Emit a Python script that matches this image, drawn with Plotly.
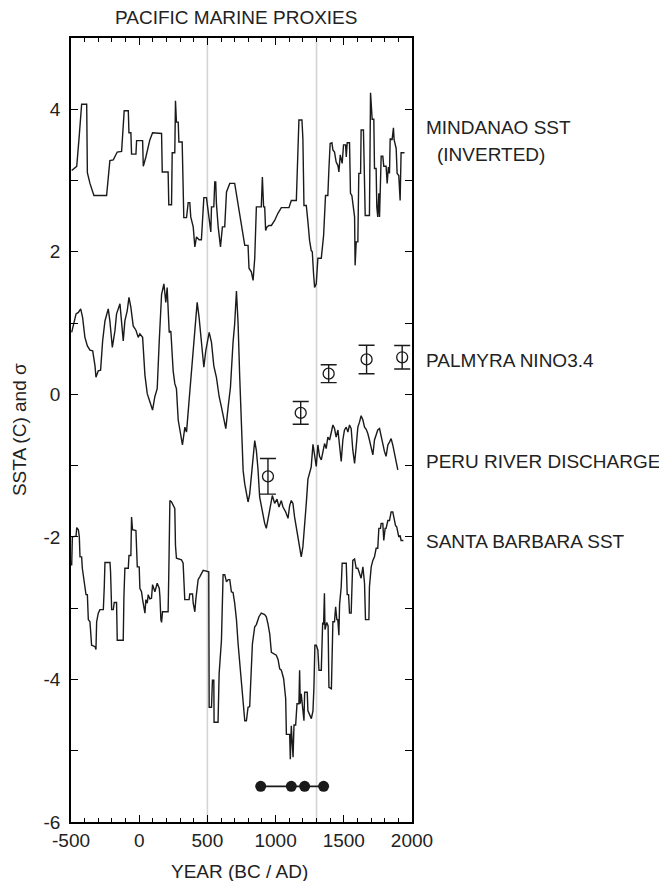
import plotly.graph_objects as go

# ---------------- data ----------------
MINDANAO = [(-495,3.14),(-478,3.17),(-458,3.20),(-439,3.64),(-422,4.07),(-385,4.07),(-380,3.11),(-361,2.96),
    (-332,2.79),(-239,2.79),(-215,3.28),(-190,3.29),(-178,3.34),(-161,3.40),(-129,3.41),(-110,3.98),(-80,3.98),
    (-75,3.67),(-61,3.67),(-56,3.37),(-24,3.37),(-19,3.56),(25,3.56),(30,3.20),(49,3.33),(66,3.45),(78,3.57),
    (98,3.67),(164,3.66),(169,3.12),(212,3.12),(217,2.66),(237,2.66),(242,3.39),(261,3.39),(266,4.12),(273,3.82),
    (286,3.82),(291,3.54),(315,3.54),(322,3.00),(327,2.48),(347,2.48),(352,2.58),(359,2.69),(371,2.69),(378,2.49),
    (396,2.35),(408,2.07),(420,2.21),(439,2.17),(456,2.17),(464,2.51),(474,2.76),(493,2.76),(510,2.51),(525,2.28),
    (530,2.63),(547,2.63),(554,2.98),(561,2.98),(566,2.68),(579,2.35),(596,2.07),(610,2.35),(627,2.35),(640,2.84),
    (664,2.96),(700,2.96),(774,2.09),(798,2.09),(805,1.77),(822,1.72),(835,1.60),(847,1.91),(859,2.63),(884,2.63),
    (895,2.63),(903,3.05),(912,2.63),(920,2.63),(927,2.30),(937,2.35),(952,2.37),(969,2.37),(993,2.44),(1017,2.54),
    (1042,2.62),(1098,2.62),(1115,2.72),(1152,2.72),(1164,3.29),(1171,3.85),(1193,3.85),(1200,3.59),(1208,2.65),
    (1225,2.65),(1237,2.42),(1249,2.16),(1261,2.02),(1269,2.00),(1278,1.70),(1286,1.50),(1298,1.55),(1310,1.91),
    (1335,1.91),(1352,2.23),(1366,2.79),(1383,2.79),(1391,3.17),(1400,3.52),(1413,3.53),(1420,3.43),(1432,3.40),
    (1444,3.26),(1457,3.21),(1464,3.12),(1474,3.36),(1488,3.24),(1498,3.50),(1513,3.50),(1518,3.33),(1525,3.53),
    (1542,3.53),(1549,2.82),(1559,2.79),(1579,2.49),(1583,1.81),(1591,2.14),(1603,2.14),(1610,3.10),(1623,3.10),
    (1627,3.71),(1644,3.71),(1652,3.05),(1657,2.51),(1688,2.51),(1696,4.23),(1708,3.86),(1720,3.86),(1725,3.17),
    (1737,3.17),(1742,2.63),(1749,2.49),(1757,2.82),(1762,2.49),(1774,3.34),(1786,3.34),(1793,3.20),(1810,3.20),
    (1818,2.96),(1827,3.19),(1835,3.10),(1840,3.59),(1854,3.57),(1864,3.74),(1869,3.57),(1884,3.45),(1891,3.10),
    (1903,3.07),(1913,2.72),(1920,3.39),(1945,3.39)]

PERU = [(-495,0.87),(-478,1.01),(-463,1.13),(-446,1.15),(-429,1.20),(-415,1.08),(-398,0.80),(-380,0.68),
    (-361,0.62),(-341,0.61),(-324,0.40),(-317,0.24),(-300,0.33),(-283,0.34),(-268,0.75),(-251,1.03),(-227,1.20),
    (-215,1.03),(-197,0.66),(-178,0.89),(-166,1.13),(-141,1.27),(-129,0.99),(-117,0.75),(-105,1.03),(-88,1.17),
    (-75,1.36),(-61,1.22),(-44,0.96),(-24,0.90),(-7,0.80),(5,0.85),(25,0.80),(42,0.27),(59,0.01),(78,-0.11),
    (98,-0.22),(115,-0.03),(132,0.08),(147,0.75),(164,1.40),(181,1.55),(195,1.29),(205,1.50),(220,0.87),
    (232,0.89),(249,0.33),(261,0.15),(273,0.08),(286,-0.36),(303,-0.57),(317,-0.71),(335,-0.46),(347,-0.53),
    (366,-0.08),(383,0.29),(396,0.68),(408,0.85),(425,1.29),(439,1.08),(456,0.75),(474,0.38),(488,0.61),
    (513,0.87),(530,0.73),(547,0.40),(566,0.24),(586,-0.03),(603,-0.18),(620,-0.32),(635,-0.48),(652,-0.18),
    (669,0.10),(688,0.73),(700,0.99),(713,1.45),(725,0.99),(737,0.24),(749,-0.41),(762,-1.07),(774,-1.26),
    (786,-1.42),(798,-1.51),(810,-1.40),(822,-1.12),(835,-0.84),(847,-0.65),(859,-0.79),(871,-1.05),(883,-1.44),
    (903,-1.65),(920,-1.81),(932,-1.88),(944,-1.74),(956,-1.63),(976,-1.42),(993,-1.53),(1010,-1.47),
    (1025,-1.58),(1042,-1.49),(1054,-1.58),(1074,-1.65),(1091,-1.74),(1103,-1.56),(1115,-1.49),(1127,-1.53),
    (1139,-1.72),(1152,-1.88),(1164,-2.05),(1176,-2.19),(1188,-2.28),(1200,-2.14),(1213,-1.86),(1225,-1.53),
    (1237,-1.19),(1249,-1.12),(1261,-1.02),(1274,-0.70),(1286,-0.87),(1298,-1.01),(1310,-0.71),(1322,-0.87),
    (1335,-0.92),(1347,-0.80),(1359,-0.69),(1371,-0.76),(1383,-0.60),(1396,-0.64),(1408,-0.55),(1420,-0.43),
    (1432,-0.48),(1444,-0.60),(1457,-0.50),(1469,-0.78),(1481,-0.94),(1493,-0.64),(1505,-0.50),(1518,-0.46),
    (1530,-0.53),(1542,-0.43),(1554,-0.48),(1566,-0.78),(1579,-0.97),(1591,-0.73),(1603,-0.46),(1615,-0.39),
    (1627,-0.30),(1640,-0.36),(1652,-0.46),(1664,-0.49),(1676,-0.55),(1688,-0.64),(1701,-0.73),(1713,-0.85),
    (1725,-0.64),(1737,-0.55),(1749,-0.50),(1762,-0.48),(1774,-0.60),(1786,-0.73),(1798,-0.80),(1810,-0.87),
    (1823,-0.71),(1835,-0.67),(1847,-0.62),(1859,-0.71),(1871,-0.83),(1884,-0.92),(1896,-1.06)]

SANTA_BARBARA = [(-495,-2.40),(-490,-2.0),(-463,-1.99),(-458,-1.87),(-446,-1.90),(-439,-2.0),(-434,-2.28),
    (-422,-2.28),(-417,-2.44),(-405,-2.60),(-390,-2.81),(-380,-2.81),(-373,-3.16),(-361,-3.19),(-349,-3.52),
    (-324,-3.54),(-317,-3.58),(-312,-3.19),(-300,-3.07),(-288,-3.02),(-263,-3.02),(-256,-2.70),(-251,-2.36),
    (-214,-2.36),(-210,-2.49),(-202,-3.02),(-190,-3.02),(-183,-2.92),(-166,-2.92),(-161,-3.45),(-117,-3.45),
    (-112,-2.84),(-105,-2.44),(-80,-2.44),(-75,-2.26),(-61,-2.26),(-56,-1.72),(-49,-1.90),(-24,-1.91),
    (-14,-2.42),(0,-2.42),(5,-2.72),(17,-2.77),(25,-2.88),(34,-2.98),(42,-3.07),(49,-2.88),(59,-2.93),
    (66,-2.81),(78,-2.87),(90,-2.86),(98,-2.67),(115,-2.77),(132,-2.65),(147,-2.72),(152,-2.84),(159,-3.16),
    (164,-3.20),(171,-3.05),(212,-3.05),(217,-2.51),(225,-1.49),(237,-1.51),(261,-1.60),(266,-2.12),
    (273,-2.30),(310,-2.32),(322,-2.37),(334,-2.88),(366,-2.88),(371,-2.80),(391,-2.80),(396,-2.93),
    (408,-3.05),(415,-2.88),(420,-2.77),(432,-2.60),(444,-2.56),(456,-2.51),(469,-2.47),(510,-2.49),
    (513,-4.39),(530,-4.39),(537,-4.01),(547,-4.01),(549,-4.60),(578,-4.60),(586,-3.92),(603,-3.45),
    (615,-2.53),(627,-2.53),(640,-2.63),(652,-2.60),(664,-2.60),(676,-2.77),(688,-2.78),(700,-2.93),
    (713,-3.16),(725,-3.50),(737,-3.78),(749,-4.08),(762,-4.34),(774,-4.58),(786,-4.58),(798,-4.39),
    (810,-4.38),(822,-3.92),(830,-3.50),(847,-3.26),(859,-3.23),(878,-3.12),(895,-3.07),(920,-3.09),
    (932,-3.12),(944,-3.22),(957,-3.36),(969,-3.62),(1005,-3.66),(1018,-3.72),(1030,-3.85),(1042,-3.87),
    (1059,-3.99),(1074,-4.27),(1079,-4.77),(1103,-4.77),(1108,-5.12),(1115,-4.65),(1128,-5.09),(1135,-4.64),
    (1147,-4.64),(1157,-4.34),(1171,-4.34),(1176,-3.87),(1181,-4.34),(1188,-4.20),(1201,-4.50),(1208,-4.58),
    (1213,-4.18),(1232,-4.18),(1237,-4.44),(1262,-4.55),(1274,-4.44),(1281,-4.11),(1288,-3.52),(1298,-3.52),
    (1310,-3.59),(1318,-3.87),(1335,-3.87),(1340,-3.36),(1345,-3.20),(1352,-3.23),(1358,-2.79),(1362,-3.30),
    (1375,-3.20),(1385,-3.25),(1391,-4.11),(1409,-4.13),(1416,-3.40),(1420,-3.19),(1432,-3.19),(1440,-2.98),
    (1449,-3.16),(1456,-3.16),(1464,-3.38),(1469,-2.95),(1481,-2.70),(1488,-2.37),(1518,-2.37),(1525,-2.81),
    (1535,-2.81),(1542,-3.07),(1554,-3.07),(1566,-2.33),(1579,-2.31),(1591,-2.44),(1603,-2.44),(1615,-2.51),
    (1627,-2.58),(1640,-2.42),(1652,-2.65),(1659,-3.16),(1684,-3.16),(1688,-2.70),(1701,-2.42),(1713,-2.33),
    (1725,-2.28),(1737,-2.16),(1749,-2.16),(1757,-1.88),(1769,-1.88),(1774,-1.81),(1786,-1.81),(1793,-2.05),
    (1803,-1.88),(1810,-1.88),(1823,-1.77),(1835,-1.77),(1847,-1.65),(1859,-1.65),(1867,-1.72),(1879,-1.84),
    (1888,-1.86),(1896,-1.95),(1903,-2.0),(1913,-1.98),(1920,-2.05),(1937,-2.05)]

PALMYRA_YEAR = [944, 1184, 1389, 1667, 1928]
PALMYRA_VAL = [-1.15, -0.26, 0.29, 0.49, 0.52]
PALMYRA_ERR = [0.25, 0.16, 0.125, 0.20, 0.165]

EVENT_YEAR = [891, 1115, 1213, 1352]
EVENT_VAL = [-5.5, -5.5, -5.5, -5.5]

GRAY_LINES = [500, 1300]

X_TICKS = [-500, 0, 500, 1000, 1500, 2000]
X_TICKTEXT = ["-500", "0", "500", "1000", "1500", "2000"]
Y_TICKS = [-6, -4, -2, 0, 2, 4]
Y_TICKTEXT = ["-6", "-4", "-2", "0", "2", "4"]

LABELS = ["MINDANAO SST", "(INVERTED)", "PALMYRA NINO3.4", "PERU RIVER DISCHARGE", "SANTA BARBARA SST"]
TITLE = "PACIFIC MARINE PROXIES"
XTITLE = "YEAR (BC / AD)"
YTITLE = "SSTA (C) and σ"

X_RANGE = [-500, 2000]
Y_RANGE = [-6, 5]

# ---------------- figure ----------------
FONT = "Liberation Sans, Arial, Helvetica, sans-serif"
FS = 19
INK = "#222222"
LINE = "#1a1a1a"

OFF = 8  # page body margin of the browser
W, H = 667 - OFF, 881 - OFF
L, T = 71 - OFF, 38 - OFF
R = W - (412.5 - OFF)
B = H - (822 - OFF)
PW = W - L - R
PH = H - T - B

def px_x(sx):
    return (sx - OFF - L) / PW

def px_y(sy):
    return (H - B - (sy - OFF)) / PH

fig = go.Figure()

for g in GRAY_LINES:
    fig.add_shape(type="line", xref="x", yref="paper", x0=g, x1=g, y0=0, y1=1,
                  line=dict(color="#d4d4d4", width=1.6), layer="below")

for series in (MINDANAO, PERU, SANTA_BARBARA):
    fig.add_trace(go.Scatter(x=[p[0] for p in series], y=[p[1] for p in series],
                             mode="lines", line=dict(color=LINE, width=1.4),
                             showlegend=False, hoverinfo="skip"))

fig.add_trace(go.Scatter(x=PALMYRA_YEAR, y=PALMYRA_VAL, mode="markers",
                         marker=dict(symbol="circle-open", size=11, color=LINE, line=dict(width=1.3)),
                         error_y=dict(type="data", array=PALMYRA_ERR, visible=True, color=LINE,
                                      thickness=1.4, width=8),
                         showlegend=False))

fig.add_trace(go.Scatter(x=EVENT_YEAR, y=EVENT_VAL, mode="lines+markers",
                         line=dict(color=LINE, width=1.6),
                         marker=dict(symbol="circle", size=11, color=LINE),
                         showlegend=False))

axis_common = dict(showgrid=False, zeroline=False, showline=True, linecolor="black", linewidth=1.5,
                   mirror="ticks", ticks="inside", tickcolor="black", tickwidth=1.3,
                   tickfont=dict(family=FONT, size=FS, color=INK))

fig.update_xaxes(range=X_RANGE, tickmode="array", tickvals=X_TICKS, ticktext=X_TICKTEXT, ticklen=7,
                 minor=dict(dtick=100, tick0=0, ticklen=4, ticks="inside", tickcolor="black", tickwidth=1.2),
                 **axis_common)
fig.update_yaxes(range=Y_RANGE, tickmode="array", tickvals=Y_TICKS, ticktext=Y_TICKTEXT, ticklen=7,
                 ticklabelstandoff=5,
                 minor=dict(dtick=1, tick0=0, ticklen=7, ticks="inside", tickcolor="black", tickwidth=1.3),
                 **axis_common)

ann = [
    dict(text=TITLE, x=px_x(236), y=px_y(17), xanchor="center"),
    dict(text=XTITLE, x=px_x(240), y=px_y(871), xanchor="center"),
    dict(text=YTITLE, x=px_x(19), y=px_y(430), xanchor="center", textangle=-90),
    dict(text=LABELS[0], x=px_x(426), y=px_y(128), xanchor="left"),
    dict(text=LABELS[1], x=px_x(437), y=px_y(154), xanchor="left"),
    dict(text=LABELS[2], x=px_x(426), y=px_y(360), xanchor="left"),
    dict(text=LABELS[3], x=px_x(426), y=px_y(461), xanchor="left"),
    dict(text=LABELS[4], x=px_x(426), y=px_y(541), xanchor="left"),
]
for a in ann:
    fig.add_annotation(xref="paper", yref="paper", yanchor="middle", showarrow=False, borderpad=0,
                       font=dict(family=FONT, size=FS, color=INK), **a)

fig.update_layout(width=W, height=H, margin=dict(l=L, r=R, t=T, b=B, pad=0),
                  plot_bgcolor="white", paper_bgcolor="white", showlegend=False)

fig.write_html("out.html")
